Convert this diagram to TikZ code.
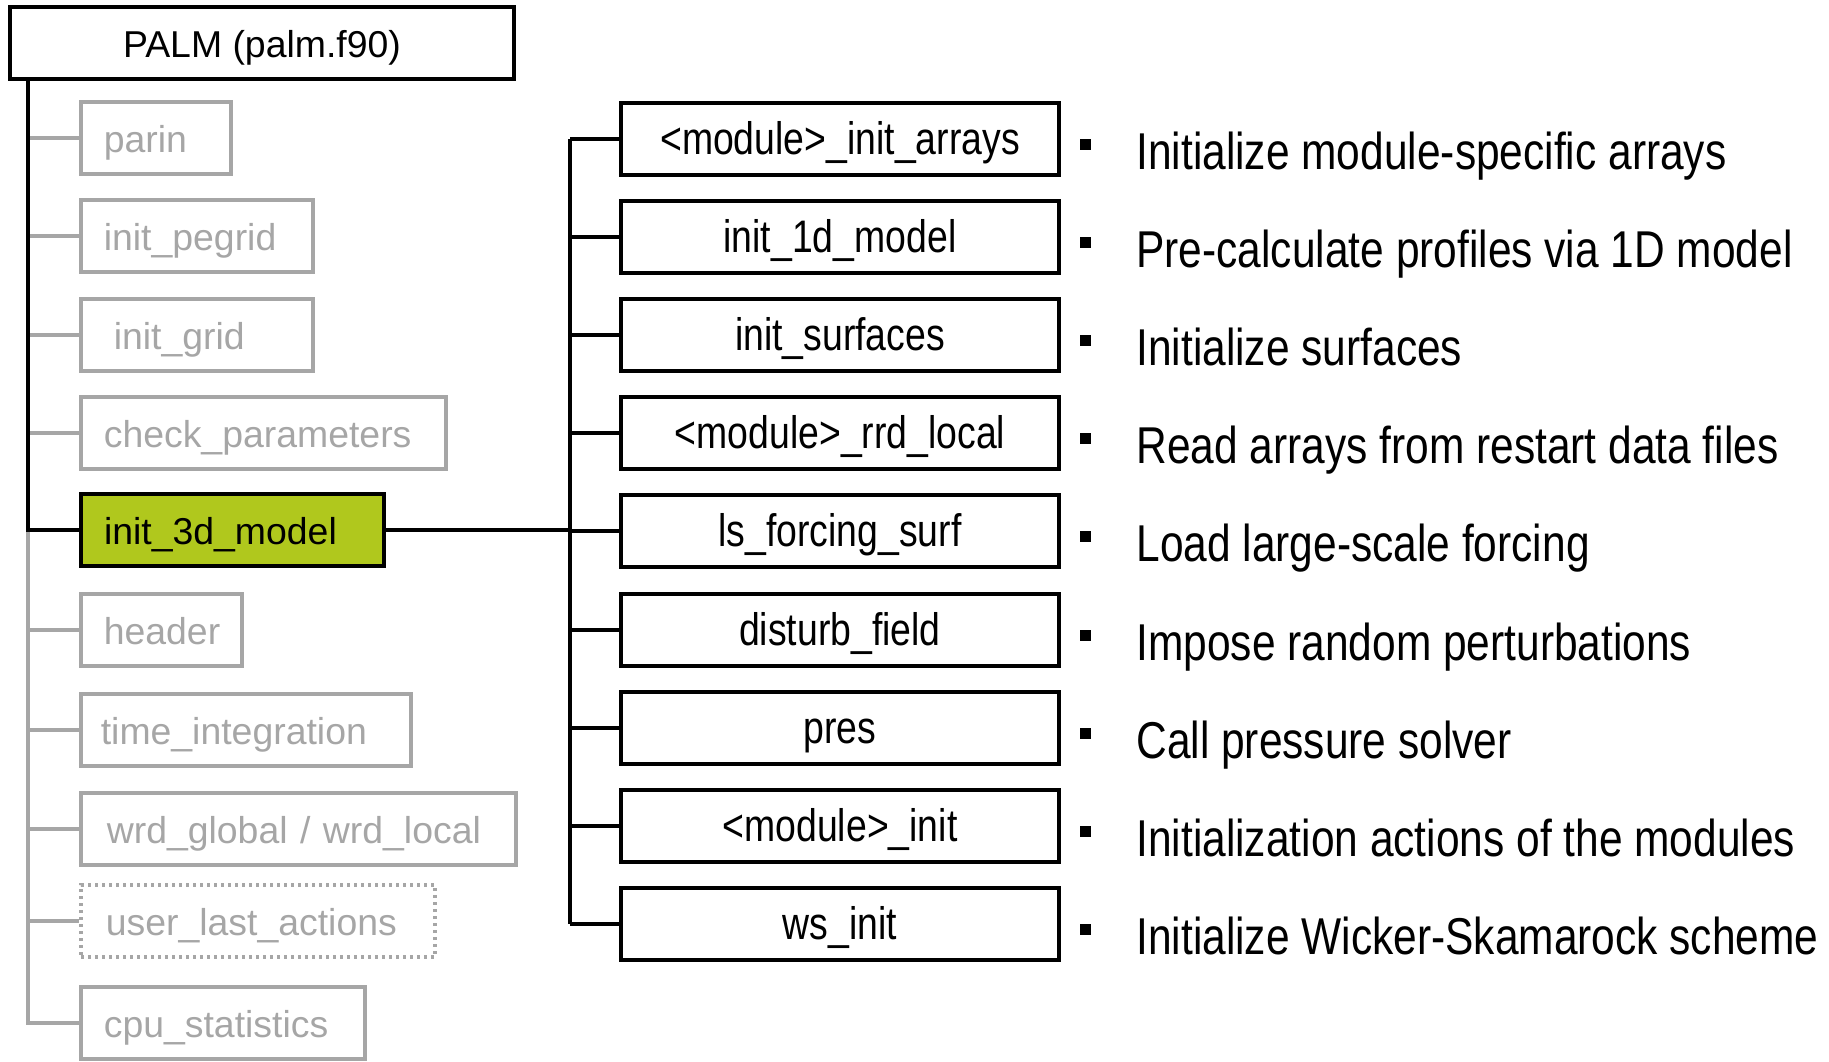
\documentclass[tikz,border=0pt]{standalone}
\usepackage{fontspec}
\setmainfont{Liberation Sans}
\newfontfamily\narrowfont[FakeStretch=0.82]{Liberation Sans}
\definecolor{boxgray}{RGB}{166,166,166}
\definecolor{palmgreen}{RGB}{176,200,29}
\begin{document}
\begin{tikzpicture}[x=0.5pt,y=-0.5pt,
  bl/.style={draw=black, line width=2pt},
  gl/.style={draw=boxgray, line width=1.8pt},
  lbox/.style={draw=boxgray, line width=1.8pt, anchor=west, minimum height=36pt,
    text height=14pt, text depth=0pt, align=left, inner ysep=0pt,
    font=\fontsize{18.7}{22}\selectfont, text=boxgray},
  palmbox/.style={draw=black, line width=2pt, minimum width=252pt, minimum height=36pt,
    text height=14pt, text depth=0pt, inner sep=0pt, font=\fontsize{18.7}{22}\selectfont},
  mbox/.style={draw=black, line width=2pt, minimum width=219pt, minimum height=36pt,
    text height=15pt, text depth=0pt, inner sep=0pt,
    font=\narrowfont\fontsize{22.8}{26}\selectfont},
  bulletsq/.style={fill=black, rectangle, minimum size=5.5pt, inner sep=0pt},
  desc/.style={anchor=base west, inner sep=0pt, font=\narrowfont\fontsize{25.9}{30}\selectfont}
]
\useasboundingbox (0,0) rectangle (1829,1061);

% top node
\node[palmbox] (palm) at (262,43) {PALM (palm.f90)};

% left column
\node[lbox, text width=52pt,    inner xsep=11.5pt] (parin) at (79,138) {parin};
\node[lbox, text width=93pt,    inner xsep=11.5pt] (pegrid) at (79,236) {init\_pegrid};
\node[lbox, text width=83pt,    inner xsep=16.5pt] (grid) at (79,335) {init\_grid};
\node[lbox, text width=159.5pt, inner xsep=11.5pt] (check) at (79,433) {check\_parameters};
\node[lbox, text width=128.5pt, inner xsep=11.5pt, draw=black, line width=2pt,
      fill=palmgreen, text=black] (i3d) at (79,530) {init\_3d\_model};
\node[lbox, text width=57.5pt,  inner xsep=11.5pt] (header) at (79,630) {header};
\node[lbox, text width=145pt,   inner xsep=10pt] (timeint) at (79,730) {time\_integration};
\node[lbox, text width=191.5pt, inner xsep=13pt] (wrd) at (79,829) {wrd\_global / wrd\_local};
\node[lbox, text width=152pt,   inner xsep=12.5pt, dash pattern=on 1.5pt off 2pt] (ula) at (79,921) {user\_last\_actions};
\node[lbox, text width=119pt,   inner xsep=11.5pt] (cpu) at (79,1023) {cpu\_statistics};

\coordinate (ltx) at (28,0);
\coordinate (mtx) at (570,0);

% gray connectors
\foreach \n in {parin,pegrid,grid,check,header,timeint,wrd,ula}
  \draw[gl] (\n.west -| ltx) -- (\n.west);
\draw[gl] (i3d.west -| ltx) |- (cpu.west);

% black trunk
\draw[bl] (palm.south west -| ltx) |- (i3d.west);
\draw[bl] (i3d.east) -- (i3d.east -| mtx);

% middle column
\node[mbox] (m1) at (840,139) {<module>\_init\_arrays};
\node[mbox] (m2) at (840,237) {init\_1d\_model};
\node[mbox] (m3) at (840,335) {init\_surfaces};
\node[mbox] (m4) at (840,433) {<module>\_rrd\_local};
\node[mbox] (m5) at (840,531) {ls\_forcing\_surf};
\node[mbox] (m6) at (840,630) {disturb\_field};
\node[mbox] (m7) at (840,728) {pres};
\node[mbox] (m8) at (840,826) {<module>\_init};
\node[mbox] (m9) at (840,924) {ws\_init};

\draw[bl] (m1.west -| mtx) -- (m9.west -| mtx);
\foreach \n in {m1,m2,m3,m4,m5,m6,m7,m8,m9}
  \draw[bl] (\n.west -| mtx) -- (\n.west);

% bullets and descriptions
\foreach \i/\y/\t in {
  1/139/Initialize module-specific arrays,
  2/237/Pre-calculate profiles via 1D model,
  3/335/Initialize surfaces,
  4/433/Read arrays from restart data files,
  5/531/Load large-scale forcing,
  6/630/Impose random perturbations,
  7/728/Call pressure solver,
  8/826/Initialization actions of the modules,
  9/924/Initialize Wicker-Skamarock scheme}{
  \node[bulletsq] (b\i) at (1085,\y+5.5) {};
  \node[desc] (d\i) at (1136,\y+30) {\t};
}
\end{tikzpicture}
\end{document}
